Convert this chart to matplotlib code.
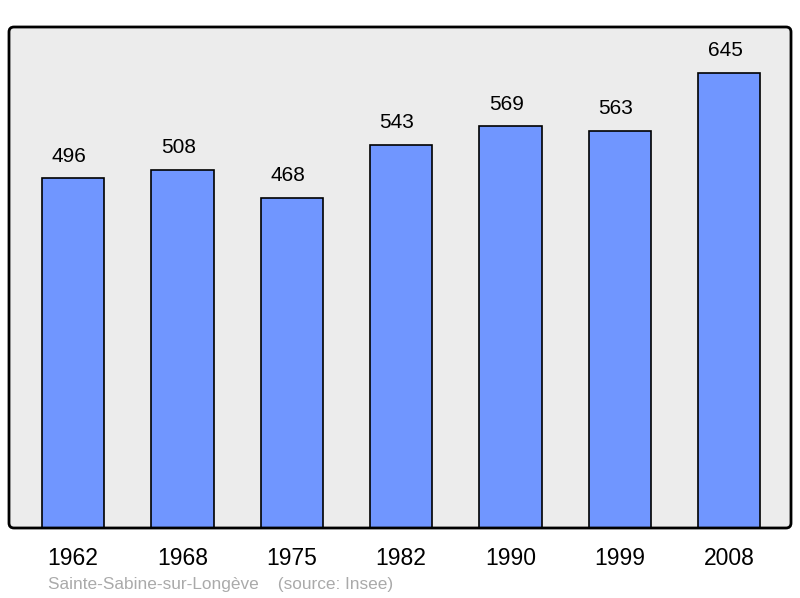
import matplotlib
matplotlib.use("Agg")
import matplotlib.pyplot as plt
from matplotlib.patches import FancyBboxPatch

years = ["1962", "1968", "1975", "1982", "1990", "1999", "2008"]
population = [496, 508, 468, 543, 569, 563, 645]
source_text = "Sainte-Sabine-sur-Longève    (source: Insee)"

plt.rcParams['font.family'] = ['Liberation Sans', 'DejaVu Sans']

fig = plt.figure(figsize=(8, 5.98), dpi=100)
ax = fig.add_axes([9/800, 70/598, 782/800, 501/598])
ax.set_facecolor('#ececec')

x = list(range(len(years)))
ax.bar(x, population, width=0.57, color='#7096ff', edgecolor='black', linewidth=1.2, zorder=2)
for xi, v in zip(x, population):
    ax.annotate(str(v), (xi, v), xytext=(-3, 9), textcoords='offset points',
                ha='center', va='bottom', fontsize=15)

ax.set_xlim(-0.585, 6.565)
ax.set_ylim(0, 710)
ax.set_yticks([])
ax.set_xticks(x)
ax.set_xticklabels(years, fontsize=16.5)
ax.tick_params(axis='x', length=0, pad=14)
for s in ax.spines.values():
    s.set_visible(False)

frame = FancyBboxPatch((0.09, 0.70), 7.82, 5.01, boxstyle="round,pad=0,rounding_size=0.05",
                       transform=fig.dpi_scale_trans, facecolor='none', edgecolor='black',
                       linewidth=2, zorder=5, clip_on=False)
ax.add_patch(frame)

fig.text(48/800, 1 - 584/598, source_text, color='#aaaaaa', fontsize=12.4, va='center', ha='left')

fig.savefig('out.png', dpi=100)
